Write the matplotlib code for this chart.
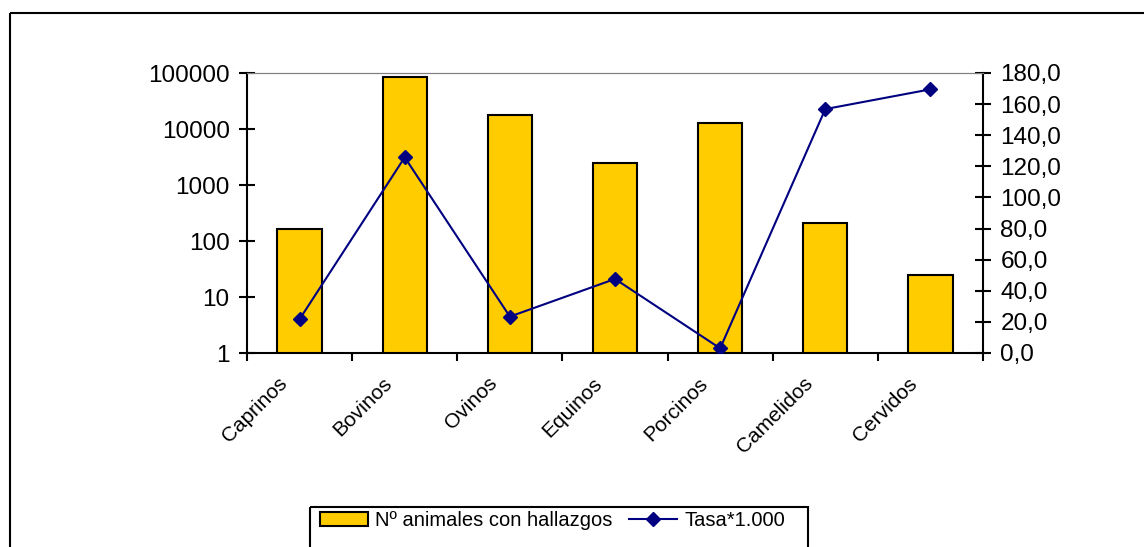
import matplotlib.pyplot as plt
from matplotlib.patches import Rectangle
from matplotlib.lines import Line2D
from matplotlib.ticker import FixedLocator, NullLocator, FuncFormatter
import matplotlib.transforms as mtransforms

plt.rcParams['font.family'] = ['Liberation Sans', 'DejaVu Sans']

# data
especies = ['Caprinos', 'Bovinos', 'Ovinos', 'Equinos', 'Porcinos', 'Camelidos', 'Cervidos']
animales = [162, 86000, 17800, 2440, 13000, 207, 25]
tasa = [21.7, 125.8, 23.4, 47.6, 3.0, 156.8, 169.5]
izq_ticks = [1, 10, 100, 1000, 10000, 100000]
der_ticks = [0, 20, 40, 60, 80, 100, 120, 140, 160, 180]

W, H = 1144, 547
fig = plt.figure(figsize=(W / 100, H / 100), dpi=100)

# outer chart frame (runs off the right and bottom edges)
fig.patches.append(Rectangle((10 / W, 1 - 13 / H), 1.2, -1.2, transform=fig.transFigure,
                             fill=False, edgecolor='black', linewidth=1.5, zorder=0))

ax = fig.add_axes([247 / W, 1 - 353 / H, (983 - 247) / W, (353 - 73) / H])
x = list(range(len(especies)))
ax.bar(x, animales, width=0.42, color='#FFCC00', edgecolor='black', linewidth=1.5, zorder=2)
ax.set_yscale('log')
ax.set_ylim(1, 100000)
ax.set_xlim(-0.5, len(especies) - 0.5)
ax.yaxis.set_major_locator(FixedLocator(izq_ticks))
ax.yaxis.set_minor_locator(NullLocator())
ax.yaxis.set_major_formatter(FuncFormatter(lambda v, p: f'{int(round(v))}'))
ax.tick_params(axis='y', which='major', direction='inout', length=11, width=1.5,
               labelsize=17.5, pad=7)

# category labels centered, boundary ticks as minor ticks
ax.set_xticks(x)
ax.set_xticklabels(especies, rotation=45, ha='right', fontsize=15)
ax.set_xticks([i - 0.5 for i in range(len(especies) + 1)], minor=True)
ax.tick_params(axis='x', which='major', length=0, pad=15)
ax.tick_params(axis='x', which='minor', direction='out', length=6, width=1.5)
shift = mtransforms.ScaledTranslation(-9 / 100, 0, fig.dpi_scale_trans)
for lbl in ax.get_xticklabels():
    lbl.set_transform(lbl.get_transform() + shift)

for s in ['left', 'bottom']:
    ax.spines[s].set_linewidth(1.5)
ax.spines['top'].set_color('#808080')
ax.spines['right'].set_visible(False)

ax2 = ax.twinx()
ax2.plot(x, tasa, color='#000080', linewidth=1.5, marker='D', markersize=7, zorder=3)
ax2.set_ylim(0, 180)
ax2.set_yticks(der_ticks)
ax2.yaxis.set_major_formatter(FuncFormatter(lambda v, p: f'{v:.1f}'.replace('.', ',')))
ax2.tick_params(axis='y', direction='inout', length=11, width=1.5, labelsize=17.5, pad=7)
ax2.spines['right'].set_linewidth(1.5)
ax2.spines['top'].set_color('#808080')
ax2.spines['left'].set_visible(False)
ax2.spines['bottom'].set_visible(False)

# legend box (runs off the bottom edge)
fig.patches.append(Rectangle((310 / W, 1 - 507 / H), (808 - 310) / W, -0.2,
                             transform=fig.transFigure, fill=False,
                             edgecolor='black', linewidth=1.5))
handles = [Rectangle((0, 0), 1, 1, facecolor='#FFCC00', edgecolor='black', linewidth=1.5),
           Line2D([], [], color='#000080', linewidth=1.5, marker='D', markersize=7)]
fig.legend(handles, ['Nº animales con hallazgos', 'Tasa*1.000'], loc='upper left',
           bbox_to_anchor=(306 / W, 1 - 497 / H), ncol=2, frameon=False, fontsize=14.5,
           handlelength=2.4, handletextpad=0.35, columnspacing=0.8, borderpad=0.2)

fig.savefig('out.png', dpi=100)
